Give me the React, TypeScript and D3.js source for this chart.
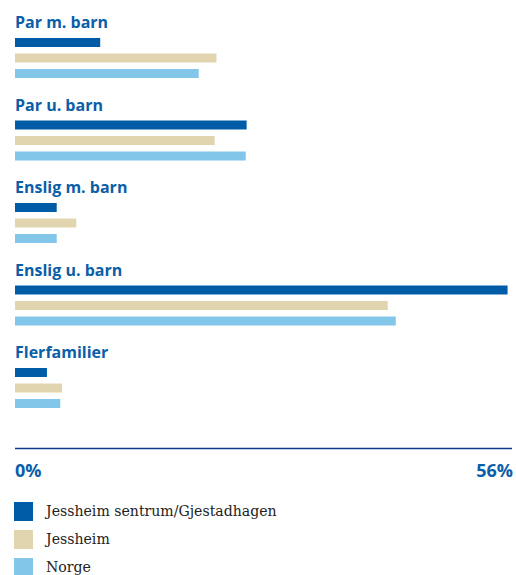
import React from "react";
import * as d3 from "d3";

const categories = ["Par m. barn", "Par u. barn", "Enslig m. barn", "Enslig u. barn", "Flerfamilier"];
const seriesNames = ["Jessheim sentrum/Gjestadhagen", "Jessheim", "Norge"];
const sentrumValues = [9.6, 26.1, 4.7, 55.5, 3.6];
const jessheimValues = [22.7, 22.5, 6.9, 42.0, 5.3];
const norgeValues = [20.7, 26.0, 4.7, 42.9, 5.1];
const tickLabels = ["0%", "56%"];
const colors = ["#005ca7", "#e1d5af", "#82c6e9"];

const W = 516;
const H = 575;

export default function App() {
  const series = [sentrumValues, jessheimValues, norgeValues];
  const x = d3.scaleLinear().domain([0, 56]).range([15, 512]);
  const yGroup = d3.scaleBand<string>().domain(categories).range([38, 38 + 82.5 * categories.length]).paddingInner(0).align(0);
  const yBar = d3.scaleBand<number>().domain([0, 1, 2]).range([0, 40]).paddingInner(0.42).align(0);
  const axisY = 448.5;
  return (
    <svg width={W} height={H} style={{ position: "absolute", left: 0, top: 0 }}>
      {categories.map((c, i) => {
        const gy = yGroup(c)!;
        return (
          <g key={c}>
            <text x={15} y={gy - 10} fill="#0b5ea8" fontFamily="'Open Sans', sans-serif" fontWeight={700} fontSize={16}>
              {c}
            </text>
            {series.map((vals, s) => (
              <rect key={s} x={x(0)} y={gy + yBar(s)!} width={x(vals[i]) - x(0)} height={yBar.bandwidth()} fill={colors[s]} />
            ))}
          </g>
        );
      })}
      <line x1={x(0)} x2={x(56)} y1={axisY} y2={axisY} stroke="#0a3a8a" strokeWidth={1.5} />
      <text x={x(0)} y={477} fill="#0b5ea8" fontFamily="'Open Sans', sans-serif" fontWeight={700} fontSize={18}>
        {tickLabels[0]}
      </text>
      <text x={x(56) + 1} y={477} textAnchor="end" fill="#0b5ea8" fontFamily="'Open Sans', sans-serif" fontWeight={700} fontSize={18}>
        {tickLabels[1]}
      </text>
      {seriesNames.map((n, i) => (
        <g key={n}>
          <rect x={14} y={502 + i * 28} width={19} height={19} fill={colors[i]} />
          <text x={46} y={516 + i * 28} fill="#222" fontFamily="'DejaVu Serif', serif" fontSize={14.1}>
            {n}
          </text>
        </g>
      ))}
    </svg>
  );
}
